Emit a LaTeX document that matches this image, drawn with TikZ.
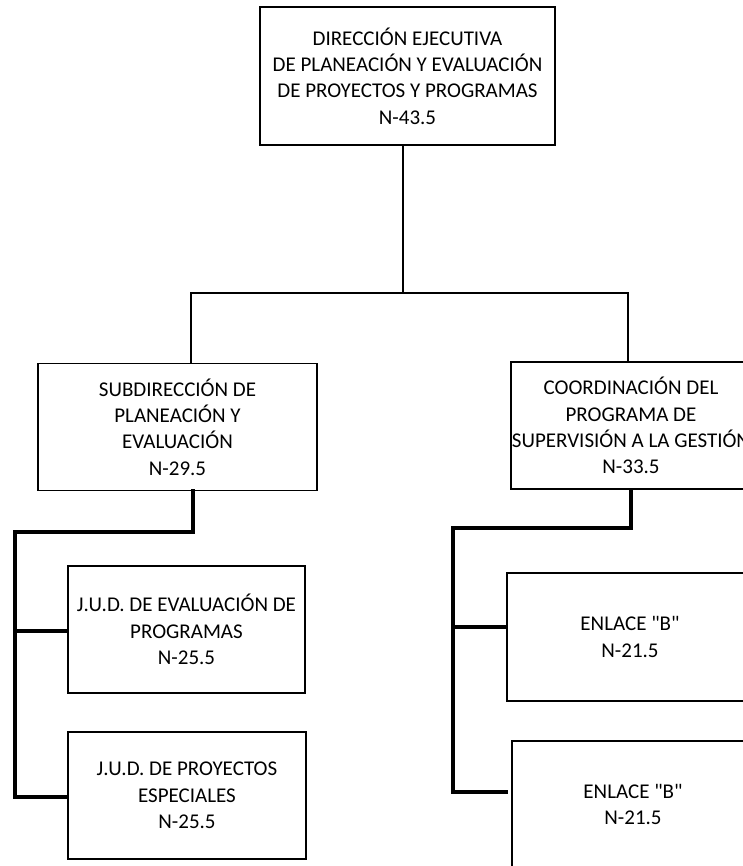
\documentclass[tikz,border=0pt]{standalone}
\usepackage{fontspec}
\setmainfont{Carlito}
\begin{document}
\begin{tikzpicture}[x=1pt, y=-1pt, font=\fontsize{21}{26.3}\selectfont,
	caja/.style={draw, rectangle, line width=1.2pt, align=center, inner sep=0pt, minimum height=127pt},
	linea/.style={line width=2pt, line cap=rect, line join=miter},
	lineab/.style={line width=3.5pt, line cap=rect, line join=miter}]
	\useasboundingbox (0,0) rectangle (743,866);
	\clip (0,0) rectangle (743,866);
	%\draw[gray!10] (0,0) grid[step=50] (743,866);
	\coordinate (T) at (403,293);
	\coordinate (TL) at (191,293);
	\coordinate (TR) at (628,293);
	\coordinate (SL) at (193,532);
	\coordinate (SLL) at (15,532);
	\coordinate (SA) at (15,631);
	\coordinate (SB) at (15,797);
	\coordinate (CR) at (631,528);
	\coordinate (CRL) at (453,528);
	\coordinate (CA) at (453,627);
	\coordinate (CB) at (453,792);
	\coordinate (CBe) at (506,792);
	
	\node[caja, minimum width=295pt, minimum height=138pt] (dir) at (407.5,76) {DIRECCIÓN EJECUTIVA\\DE PLANEACIÓN Y EVALUACIÓN\\DE PROYECTOS Y PROGRAMAS\\N-43.5};
	\node[caja, minimum width=279pt] (sub) at (177.5,427) {SUBDIRECCIÓN DE\\PLANEACIÓN Y\\EVALUACIÓN\\N-29.5};
	\node[caja, minimum width=240pt] (coord) at (631,425.5) {COORDINACIÓN DEL\\PROGRAMA DE\\SUPERVISIÓN A LA GESTIÓN\\N-33.5};
	\node[caja, minimum width=237pt] (judA) at (186.5,629.5) {J.U.D. DE EVALUACIÓN DE\\PROGRAMAS\\N-25.5};
	\node[caja, minimum width=238pt] (judB) at (187,795.5) {J.U.D. DE PROYECTOS\\ESPECIALES\\N-25.5};
	\node[caja, minimum width=246pt, minimum height=128pt] (enlA) at (630,637) {ENLACE \textquotedbl B\textquotedbl\\N-21.5};
	\node[caja, minimum width=242pt] (enlB) at (633,804.5) {ENLACE \textquotedbl B\textquotedbl\\N-21.5};
	
	\draw[linea] (dir.south -| T)--(T);
	\draw[linea] (TL)--(TR);
	\draw[linea] (TL)--(TL |- sub.north);
	\draw[linea] (TR)--(TR |- coord.north);
	
	\draw[lineab] (sub.south -| SL)--(SL)--(SLL)--(SB)--(SB -| judB.west);
	\draw[lineab] (SA)--(SA -| judA.west);
	\draw[lineab] (coord.south -| CR)--(CR)--(CRL)--(CB)--(CBe);
	\draw[lineab] (CA)--(CA -| enlA.west);
\end{tikzpicture}
\end{document}
